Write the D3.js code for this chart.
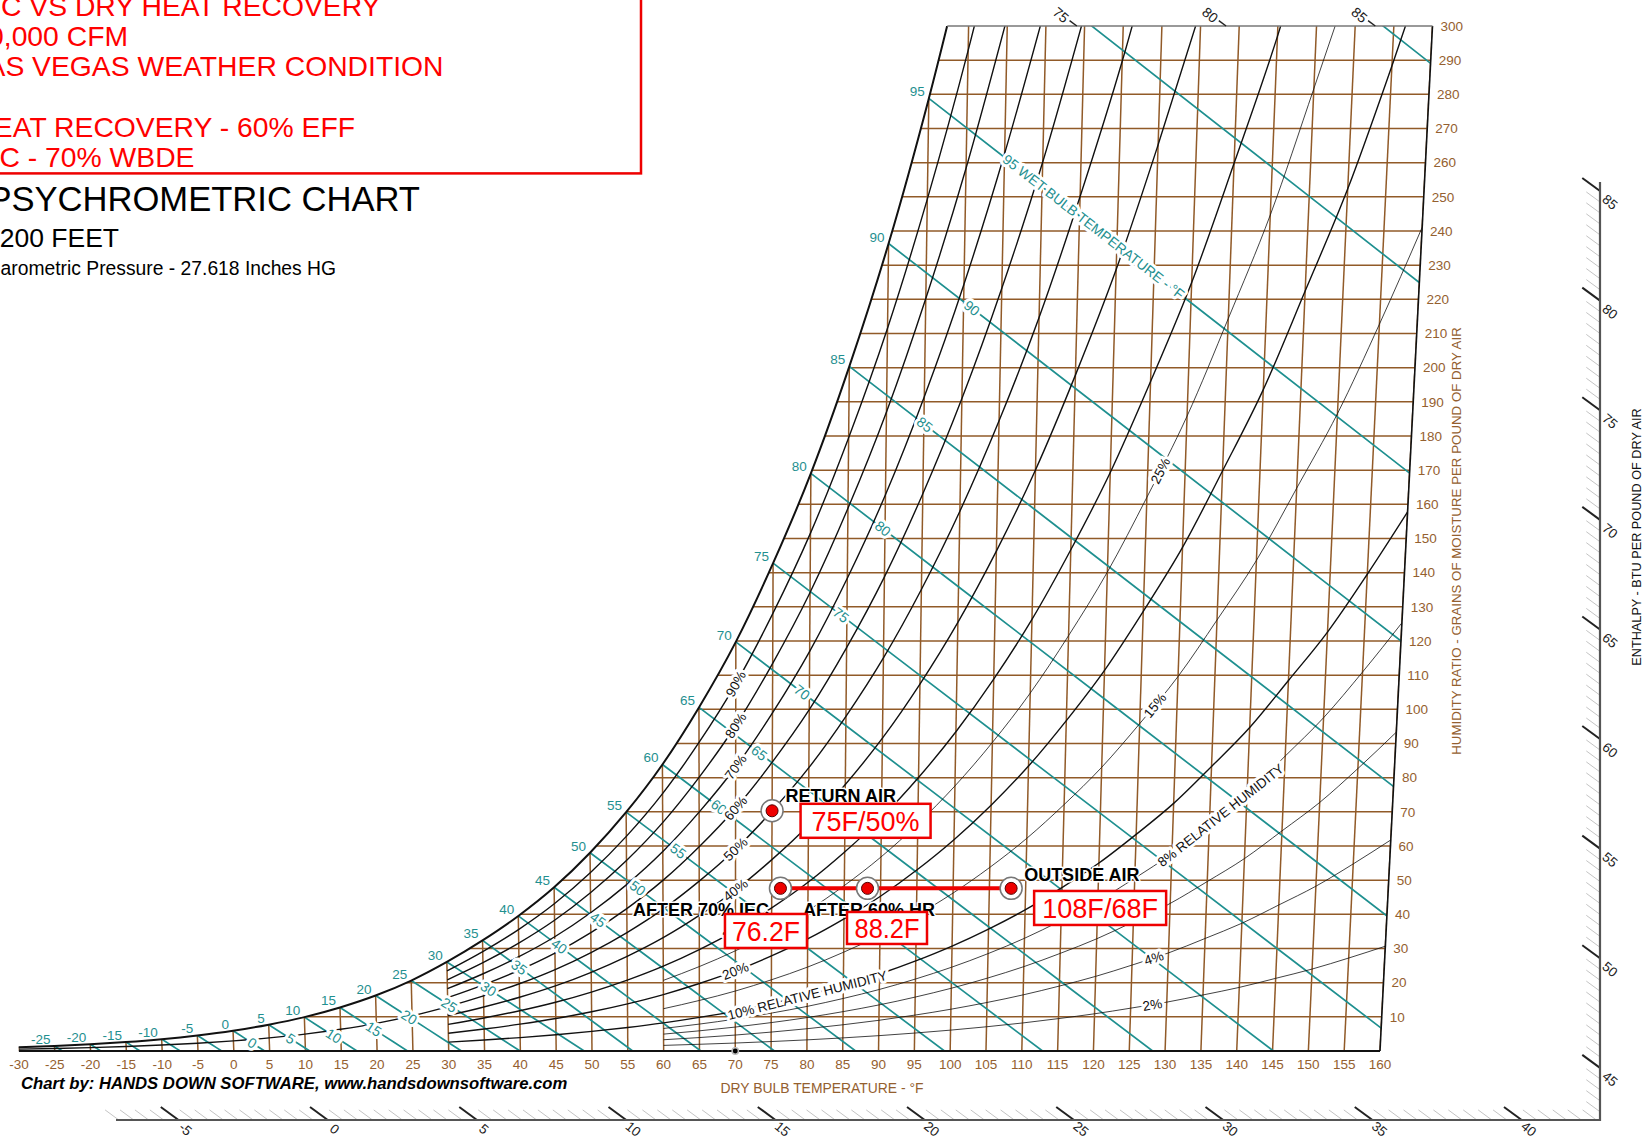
<!DOCTYPE html>
<html>
<head>
<meta charset="utf-8">
<script src="https://cdn.jsdelivr.net/npm/d3@7"></script>
<style>
  body { margin: 0; background: #fff; }
  svg text { font-family: "Liberation Sans", Arial, sans-serif; }
</style>
</head>
<body>
<svg id="chart"></svg>
<script>
// ---- data ----
const baro = 27.618; // inches Hg
const dryBulb = [-30,-25,-20,-15,-10,-5,0,5,10,15,20,25,30,35,40,45,50,55,60,65,70,75,80,85,90,95,100,105,110,115,120,125,130,135,140,145,150,155,160];
// saturation vapour pressure, inches Hg (over ice below 32F)
const satPressure = [0.00700,0.00939,0.01257,0.01669,0.02200,0.02888,0.03759,0.04881,0.06275,0.08056,0.10260,0.13020,0.16440,
                     0.20380,0.24850,0.30070,0.36330,0.43640,0.52190,0.62350,0.73920,0.87690,1.03230,1.21510,1.42190,1.66210,
                     1.93390,2.24480,2.59550,3.00060,3.44580,3.96440,4.52170,5.18400,5.87820,6.71200,7.56500,8.57600,9.65900];
const grainTicks = [10,20,30,40,50,60,70,80,90,100,110,120,130,140,150,160,170,180,190,200,210,220,230,240,250,260,270,280,290,300];
const rhMajor = [90,80,70,60,50,40,30,20,10];
const rhMinor = [25,15,8,6,4,2];
const rhLabelText = ["90%","80%","70%","60%","50%","40%","30%","20%","10% RELATIVE HUMIDITY","25%","15%","8% RELATIVE HUMIDITY","4%","2%"];
const rhLabelRh   = [90,80,70,60,50,40,30,20,10,25,15,8,4,2];
const rhLabelDb   = [70,70,70,70,70,70,70,70,80,126.7,127,136.5,128,128];
const wetBulbs = [-25,-20,-15,-10,-5,0,5,10,15,20,25,30,35,40,45,50,55,60,65,70,75,80,85,90,95,100,105];
const wbLabelWb = [0,5,10,15,20,25,30,35,40,45,50,55,60,65,70,75,80,85,90,95];
const wbLabelDb = [2.6,8,14,19.6,24.6,30.2,35.7,40,45.6,51,56.5,62.1,67.7,73.2,79,84.2,89.7,95.1,101.1,105];
const enthalpyMajor = [-5,0,5,10,15,20,25,30,35,40,45,50,55,60,65,70,75,80,85];
const enthalpyTop = [75,80,85];
const stateNames  = ["RETURN AIR","OUTSIDE AIR","AFTER 60% HR","AFTER 70% IEC"];
const stateDb     = [75,108,88.2,76.2];
const stateGrains = [70.3,47.6,47.6,47.6];
const stateTags   = ["75F/50%","108F/68F","88.2F","76.2F"];
const noteLines = ["IEC VS DRY HEAT RECOVERY","10,000 CFM","LAS VEGAS WEATHER CONDITION","","DRY HEAT RECOVERY - 60% EFF","IEC - 70% WBDE"];

// ---- scales ----
const brown = "#915a28", brownText = "#94602f", teal = "#1f9090";
const svg = d3.select("#chart").attr("width", 1648).attr("height", 1140);
const defs = svg.append("defs");

const xScale = d3.scaleLinear().domain([-30, 160]).range([18.9, 1380]);
const yScale = d3.scaleLinear().domain([0, 300]).range([1051, 26]);
const a = (xScale(1) - xScale(0)) / 0.24;   // px per btu/lb
const C = 1091;                              // oblique projection constant
const px = (t, g) => { const w = g / 7000; return xScale(0) + a * (0.24 * t + w * (1061 + 0.444 * t - C)); };
const hX = (h, g) => xScale(0) + a * (h - C * g / 7000);
const tFromXY = (x, y) => { const w = yScale.invert(y) / 7000; return ((x - xScale(0)) / a - w * (1061 - C)) / (0.24 + 0.444 * w); };
const psat = new Map(dryBulb.map((t, i) => [t, satPressure[i]]));
const wGr = pv => 7000 * 0.622 * pv / (baro - pv);

function trimTop(pts) { const out = []; for (const p of pts) { out.push(p); if (p.g > 300) break; } return out; }
const curve = d3.line().x(d => px(d.t, d.g)).y(d => yScale(d.g)).curve(d3.curveMonotoneX);
const straight = d3.line().x(d => px(d.t, d.g)).y(d => yScale(d.g));

const satPts = trimTop(dryBulb.map(t => ({ t, g: wGr(psat.get(t)) })));
const satD = curve(satPts);
const lastSat = satPts[satPts.length - 1];
defs.append("clipPath").attr("id", "satClip").append("path")
    .attr("d", satD + `L1700,${yScale(lastSat.g)}L1700,1200L${px(-30, 0)},1200Z`);
defs.append("clipPath").attr("id", "chartClip").append("path")
    .attr("d", `M0,${yScale(0)}L${px(160, 0)},${yScale(0)}L${px(160, 300)},${yScale(300)}L0,${yScale(300)}Z`);

const plot = svg.append("g").attr("clip-path", "url(#chartClip)");
const area = plot.append("g").attr("clip-path", "url(#satClip)");

// dry bulb lines
area.selectAll("line.db").data(dryBulb).join("line")
    .attr("x1", t => px(t, 0)).attr("y1", yScale(0))
    .attr("x2", t => px(t, 300)).attr("y2", yScale(300))
    .attr("stroke", brown).attr("stroke-width", 1.5);
// humidity ratio lines
area.selectAll("line.gr").data(grainTicks.filter(g => g < 300)).join("line")
    .attr("x1", 0).attr("y1", g => yScale(g))
    .attr("x2", g => px(160, g)).attr("y2", g => yScale(g))
    .attr("stroke", brown).attr("stroke-width", 1.5);

// wet bulb lines
function wbParams(twb) {
  const ps = psat.get(twb), ws = 0.622 * ps / (baro - ps), ice = twb < 32;
  const A = ice ? 1220 - 0.04 * twb : 1093 - 0.556 * twb;
  return { ws, ice, A };
}
function wbAt(twb, t) {
  const p = wbParams(twb);
  const B = p.ice ? 1220 + 0.444 * t - 0.48 * twb : 1093 + 0.444 * t - twb;
  return 7000 * (p.A * p.ws - 0.24 * (t - twb)) / B;
}
function wbPts(twb) {
  const p = wbParams(twb);
  const tEnd = twb + p.A * p.ws / 0.24;
  return d3.range(0, 1.0001, 0.2).map(f => { const t = twb + f * (tEnd - twb); return { t, g: Math.max(0, wbAt(twb, t)) }; });
}
area.selectAll("path.wb").data(wetBulbs).join("path")
    .attr("d", d => straight(wbPts(d)))
    .attr("fill", "none").attr("stroke", teal).attr("stroke-width", 1.7);

// relative humidity curves
function rhStart(rh) { return rh === 50 ? -30 : (rhMajor.includes(rh) ? 30 : 60); }
function rhPts(rh) {
  return trimTop(dryBulb.filter(t => t >= rhStart(rh)).map(t => ({ t, g: wGr(rh / 100 * psat.get(t)) })));
}
const rhNodes = new Map();
rhMajor.concat(rhMinor).forEach(rh => {
  const p = area.append("path").attr("d", curve(rhPts(rh)))
      .attr("fill", "none").attr("stroke", "#111")
      .attr("stroke-width", rhMajor.includes(rh) ? 1.4 : 0.8);
  rhNodes.set(rh, p.node());
});

// saturation curve
plot.append("path").attr("d", satD).attr("fill", "none").attr("stroke", "#111").attr("stroke-width", 2);

// borders
svg.append("line").attr("x1", px(-30, 0)).attr("y1", yScale(0)).attr("x2", px(160, 0)).attr("y2", yScale(0))
   .attr("stroke", "#111").attr("stroke-width", 2);
svg.append("line").attr("x1", px(160, 0)).attr("y1", yScale(0)).attr("x2", px(160, 300)).attr("y2", yScale(300))
   .attr("stroke", "#111").attr("stroke-width", 1.6);
svg.append("g").attr("clip-path", "url(#satClip)").append("line")
   .attr("x1", 0).attr("y1", yScale(300)).attr("x2", px(160, 300)).attr("y2", yScale(300))
   .attr("stroke", "#777").attr("stroke-width", 1.6);
svg.append("circle").attr("cx", xScale(70)).attr("cy", yScale(0)).attr("r", 3.2).attr("fill", "#000")
   .attr("stroke", "#bbb").attr("stroke-width", 1.5);

// axis tick labels
svg.append("g").selectAll("text").data(dryBulb).join("text")
   .attr("x", t => xScale(t)).attr("y", 1069).attr("text-anchor", "middle")
   .attr("font-size", 13.5).attr("fill", brownText).text(t => t);
svg.append("g").selectAll("text").data(grainTicks).join("text")
   .attr("x", g => px(160, g) + 8).attr("y", g => yScale(g) + 4.8)
   .attr("font-size", 13.5).attr("fill", brownText).text(g => g);
svg.append("text").attr("x", 822).attr("y", 1093).attr("text-anchor", "middle")
   .attr("font-size", 13.9).attr("fill", brownText).text("DRY BULB TEMPERATURE - °F");
svg.append("text").attr("transform", "translate(1461,541) rotate(-90)").attr("text-anchor", "middle")
   .attr("font-size", 13.3).attr("fill", brownText).text("HUMIDITY RATIO - GRAINS OF MOISTURE PER POUND OF DRY AIR");

const halo = (s, w = 6) => s.attr("stroke", "#fff").attr("stroke-width", w).attr("stroke-linejoin", "round").attr("paint-order", "stroke");

// wet bulb labels at saturation
svg.append("g").selectAll("text").data(wetBulbs.filter(t => t <= 95)).join("text")
   .attr("x", t => px(t, wGr(psat.get(t))) - 4).attr("y", t => yScale(wGr(psat.get(t))) - 2)
   .attr("text-anchor", "end").attr("font-size", 13.5).attr("fill", teal).text(t => t);

// wet bulb labels along the lines
wbLabelWb.forEach((twb, i) => {
  const tl = wbLabelDb[i], g = wbAt(twb, tl);
  const pts = wbPts(twb), p0 = pts[0], p1 = pts[pts.length - 1];
  const ang = Math.atan2(yScale(p1.g) - yScale(p0.g), px(p1.t, p1.g) - px(p0.t, p0.g)) * 180 / Math.PI;
  const last = twb === 95;
  svg.append("text").call(halo)
     .attr("transform", `translate(${px(tl, g)},${yScale(g)}) rotate(${ang})`)
     .attr("text-anchor", last ? "start" : "middle").attr("dy", "0.35em")
     .attr("font-size", 14).attr("fill", teal)
     .text(last ? "95 WET BULB TEMPERATURE - °F" : twb);
});

// relative humidity labels
function pointAtT(node, t) {
  let lo = 0, hi = node.getTotalLength();
  for (let k = 0; k < 40; k++) {
    const mid = (lo + hi) / 2, p = node.getPointAtLength(mid);
    if (tFromXY(p.x, p.y) < t) lo = mid; else hi = mid;
  }
  return lo;
}
rhLabelText.forEach((txt, i) => {
  const node = rhNodes.get(rhLabelRh[i]);
  const L = pointAtT(node, rhLabelDb[i]);
  const p = node.getPointAtLength(L), pa = node.getPointAtLength(Math.max(0, L - 4)), pb = node.getPointAtLength(L + 4);
  const ang = Math.atan2(pb.y - pa.y, pb.x - pa.x) * 180 / Math.PI;
  svg.append("text").call(halo)
     .attr("transform", `translate(${p.x},${p.y}) rotate(${ang})`)
     .attr("text-anchor", "middle").attr("dy", "0.35em")
     .attr("font-size", 13.5).attr("fill", "#111").text(txt);
});

// enthalpy scale
const hAxisY = 1120, hAxisX = 1600, hAxisLeft = 116, hAxisTop = 182;
const gBot = yScale.invert(hAxisY);
const dxg = a * C / 7000, dyg = yScale(0) - yScale(1), dl = Math.hypot(dxg, dyg);
const ux = -dxg / dl, uy = -dyg / dl;
function hBase(h) {
  const xb = hX(h, gBot);
  if (xb <= hAxisX) return { x: xb, y: hAxisY, side: "b" };
  const g = (xScale(0) + a * h - hAxisX) * 7000 / (a * C);
  return { x: hAxisX, y: yScale(g), side: "r" };
}
const eg = svg.append("g");
const minor = d3.range(-7, 85.6, 0.5).map(hBase).filter(p => p.x >= hAxisLeft && p.y >= hAxisTop);
eg.selectAll("line.mn").data(minor).join("line")
  .attr("x1", p => p.x).attr("y1", p => p.y).attr("x2", p => p.x + ux * 17).attr("y2", p => p.y + uy * 17)
  .attr("stroke", "#c4c4c4").attr("stroke-width", 1);
eg.selectAll("line.mj").data(enthalpyMajor.map(hBase)).join("line")
  .attr("x1", p => p.x).attr("y1", p => p.y).attr("x2", p => p.x + ux * 22).attr("y2", p => p.y + uy * 22)
  .attr("stroke", "#222").attr("stroke-width", 2);
eg.append("path").attr("d", `M${hAxisLeft},${hAxisY}H${hAxisX}V${hAxisTop}`)
  .attr("fill", "none").attr("stroke", "#555").attr("stroke-width", 2.2);
eg.selectAll("text.mj").data(enthalpyMajor).join("text")
  .attr("transform", h => { const p = hBase(h); const o = p.side === "b" ? [7, 9] : [10, 11];
                            return `translate(${p.x + o[0]},${p.y + o[1]}) rotate(40)`; })
  .attr("text-anchor", "middle").attr("dy", "0.35em").attr("font-size", 13.5).attr("fill", "#222").text(h => h);
svg.append("text").attr("transform", "translate(1641,537) rotate(-90)").attr("text-anchor", "middle")
   .attr("font-size", 12.7).attr("fill", "#111").text("ENTHALPY - BTU PER POUND OF DRY AIR");
// enthalpy marks on top border
enthalpyTop.forEach(h => {
  const x = hX(h, 300), y = yScale(300);
  svg.append("line").attr("x1", x).attr("y1", y).attr("x2", x + ux * 9).attr("y2", y + uy * 9)
     .attr("stroke", "#222").attr("stroke-width", 1.5);
  svg.append("text").attr("transform", `translate(${x - 16},${y - 11}) rotate(40)`)
     .attr("text-anchor", "middle").attr("dy", "0.35em").attr("font-size", 14).attr("fill", "#222").text(h);
});

// ---- process annotation ----
const states = stateNames.map((n, i) => ({ name: n, t: stateDb[i], g: stateGrains[i], tag: stateTags[i] }));
const nameOff = [[13.5, -9], [13, -7.4], [-64.5, 28], [-147.5, 28]];
const boxOff  = [[28.5, -7, 130, 34], [23, 2.6, 132, 34], [-20.5, 23.6, 80, 32], [-55.5, 25.6, 82, 34]];
const tagLen  = [108, 116, 65, 68];
const ann = svg.append("g");
states.forEach((s, i) => {
  const x = px(s.t, s.g), y = yScale(s.g);
  ann.append("text").call(halo, 3)
     .attr("x", x + nameOff[i][0]).attr("y", y + nameOff[i][1])
     .attr("font-size", 18).attr("font-weight", "bold").attr("fill", "#000").text(s.name);
});
states.forEach((s, i) => {
  const x = px(s.t, s.g), y = yScale(s.g), b = boxOff[i];
  ann.append("rect").attr("x", x + b[0]).attr("y", y + b[1]).attr("width", b[2]).attr("height", b[3])
     .attr("fill", "#fff").attr("stroke", "#e00").attr("stroke-width", 2.5);
  ann.append("text").attr("x", x + b[0] + b[2] / 2).attr("y", y + b[1] + b[3] / 2).attr("dy", "0.36em")
     .attr("text-anchor", "middle").attr("font-size", 28).attr("fill", "#f00")
     .attr("textLength", tagLen[i]).attr("lengthAdjust", "spacingAndGlyphs").text(s.tag);
});
const line = states.filter(s => s.g === 47.6);
ann.append("line")
   .attr("x1", px(d3.min(line, s => s.t), 47.6)).attr("x2", px(d3.max(line, s => s.t), 47.6))
   .attr("y1", yScale(47.6)).attr("y2", yScale(47.6))
   .attr("stroke", "#e00").attr("stroke-width", 4);
states.forEach(s => {
  const x = px(s.t, s.g), y = yScale(s.g);
  ann.append("circle").attr("cx", x).attr("cy", y).attr("r", 11).attr("fill", "#fff").attr("stroke", "#777").attr("stroke-width", 1.5);
  ann.append("circle").attr("cx", x).attr("cy", y).attr("r", 6).attr("fill", "#e00").attr("stroke", "#500").attr("stroke-width", 1);
});

// ---- title block ----
svg.append("rect").attr("x", -10).attr("y", -10).attr("width", 651).attr("height", 183.4)
   .attr("fill", "none").attr("stroke", "#e00").attr("stroke-width", 2.5);
const noteEnd = [380.5, 128, 443.5, 0, 355, 194.5];
svg.append("g").selectAll("text").data(noteLines).join("text")
   .attr("x", (d, i) => noteEnd[i]).attr("y", (d, i) => 16 + 30.2 * i)
   .attr("text-anchor", "end").attr("font-size", 28.3).attr("fill", "#f00").text(d => d);
svg.append("text").attr("x", 420).attr("y", 211).attr("text-anchor", "end")
   .attr("font-size", 34.6).attr("fill", "#000").text("PSYCHROMETRIC CHART");
svg.append("text").attr("x", 119).attr("y", 247).attr("text-anchor", "end")
   .attr("font-size", 26.5).attr("fill", "#000").text("2200 FEET");
svg.append("text").attr("x", 336).attr("y", 275).attr("text-anchor", "end")
   .attr("font-size", 19.3).attr("fill", "#000").text("Barometric Pressure - 27.618 Inches HG");
svg.append("text").attr("x", 21).attr("y", 1089)
   .attr("font-size", 16.7).attr("font-weight", "bold").attr("font-style", "italic").attr("fill", "#000")
   .text("Chart by: HANDS DOWN SOFTWARE, www.handsdownsoftware.com");
</script>
</body>
</html>
